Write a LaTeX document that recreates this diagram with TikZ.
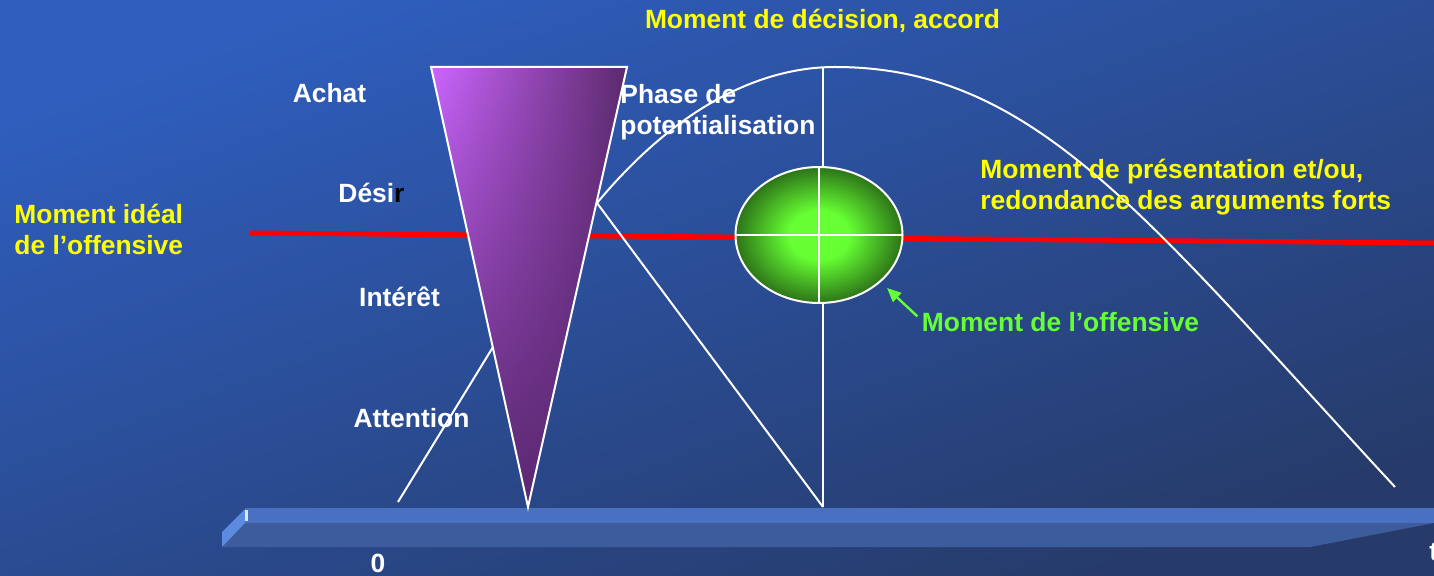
\documentclass[tikz,border=0pt]{standalone}
\usepackage{fontspec}
\setmainfont{Liberation Sans}
\usetikzlibrary{fadings,arrows.meta}
\definecolor{bgtop}{HTML}{2F5EBE}
\definecolor{bgbot}{HTML}{263B6A}
\definecolor{funleft}{HTML}{CC66FF}
\definecolor{funmid}{HTML}{9A4CC2}
\definecolor{funright}{HTML}{5C2A6E}
\definecolor{fundark}{HTML}{5A2870}
\definecolor{eggin}{HTML}{66FF33}
\definecolor{eggout}{HTML}{2D7418}
\definecolor{offgreen}{HTML}{66FF33}
\definecolor{momyellow}{HTML}{FFFF00}
\definecolor{barface}{HTML}{4A71C1}
\definecolor{barfront}{HTML}{3D5C9C}
\definecolor{barend}{HTML}{5C8BE0}
\tikzfading[name=fundown, top color=transparent!100, bottom color=transparent!0]
\pgfdeclareradialshading{egg}{\pgfpointorigin}{color(0bp)=(eggin); color(9bp)=(eggin); color(25bp)=(eggout); color(50bp)=(eggout)}
\newcommand{\lblfont}{\fontsize{13.2pt}{15.5pt}\selectfont\bfseries}

\begin{document}
\begin{tikzpicture}[x=0.5pt, y=-0.5pt, >={Triangle[length=7pt,width=6pt]},
  wline/.style={white, line width=1pt},
  lbl/.style={inner sep=0pt, font=\lblfont, text=white},
  yel/.style={lbl, text=momyellow}]
  \useasboundingbox (0,0) rectangle (1434,576);
  \shade[top color=bgtop, bottom color=bgbot, shading angle=20] (0,0) rectangle (1434,576);

  \fill[barfront] (245,523) -- (1434,523) -- (1310,547) -- (222,547) -- cycle;
  \fill[barface] (245,508) rectangle (1434,523);
  \fill[barend] (222,532) -- (245,509) -- (245,523) -- (222,547) -- cycle;
  \fill[white!80!barend] (245,510) rectangle (248,521);

  \draw[red, line width=2.5pt] (250,233) -- (1434,243);

  \coordinate (funTL) at (431,67);
  \coordinate (funTR) at (627,67);
  \coordinate (funtip) at (528,507);
  \coordinate (desirpt) at (597,203);
  \coordinate (attpt) at (493,347);
  \coordinate (top) at (835,67);
  \coordinate (peak) at (823,67);
  \coordinate (foot) at (823,507);
  \coordinate (endpt) at (1395,487);
  \coordinate (eggpt) at (887,288);

  \shade[left color=funleft, middle color=funmid, right color=funright] (funTL) -- (funTR) -- (funtip) -- cycle;
  \fill[fundark, path fading=fundown] (funTL) -- (funTR) -- (funtip) -- cycle;
  \draw[wline] (funTL) -- (funTR) -- (funtip) -- cycle;

  \draw[wline] (attpt) -- (398,502);
  \draw[wline] (desirpt) -- (foot);
  \draw[wline] (peak) -- (foot);
  \draw[wline] (desirpt) .. controls (692,89) and (780,67) .. (top)
    .. controls (1035,67) and (1145,217) .. (endpt);

  \shade[shading=egg] (819,235) ellipse [x radius=83.5, y radius=68];
  \draw[wline] (819,235) ellipse [x radius=83.5, y radius=68];
  \draw[wline] (735.5,235) -- (902.5,235);
  \draw[wline] (819,167) -- (819,303);

  \node[lbl, anchor=base] (achat) at (329.5,103) {Achat};
  \node[lbl, anchor=base] (desir) at (371.5,203) {Dési{\color{black}r}};
  \node[lbl, anchor=base] (interet) at (399.5,307) {Intérêt};
  \node[lbl, anchor=base] (attention) at (411.5,428) {Attention};
  \node[lbl, anchor=north west, align=left] (phase) at (620,84) {Phase de\\potentialisation};
  \node[lbl, anchor=base] (zero) at (378,573) {0};
  \node[lbl, anchor=base west] (tlbl) at (1429,560) {t};

  \node[yel, anchor=base] (decision) at (822.5,29) {Moment de décision, accord};
  \node[yel, anchor=north west, align=left] (presentation) at (980,159)
    {Moment de présentation et/ou,\\redondance des arguments forts};
  \node[yel, anchor=north west, align=left] (ideal) at (14,204) {Moment idéal\\de l’offensive};
  \node[lbl, text=offgreen, anchor=base] (offensive) at (1060.5,332) {Moment de l’offensive};

  \draw[->, offgreen, line width=1.2pt] ([shift={(-4,4)}]offensive.north west) -- (eggpt);
\end{tikzpicture}
\end{document}
